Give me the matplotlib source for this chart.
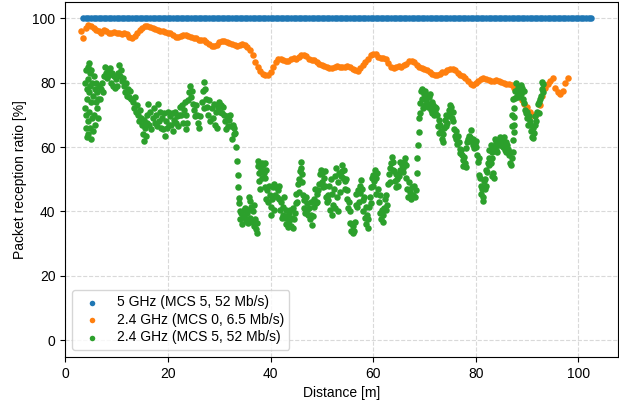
import matplotlib
matplotlib.use('Agg')
import matplotlib.pyplot as plt

# distance samples [m] used by the 5 GHz and 2.4 GHz MCS 0 runs
dist_m = [
    3.0, 3.5, 4.0, 4.5, 5.0, 5.5, 6.0, 6.5, 7.0, 7.5,
    8.0, 8.5, 9.0, 9.5, 10.0, 10.5, 11.0, 11.5, 12.0, 12.5,
    13.0, 13.5, 14.0, 14.5, 15.0, 15.5, 16.0, 16.5, 17.0, 17.5,
    18.0, 18.5, 19.0, 19.5, 20.0, 20.5, 21.0, 21.5, 22.0, 22.5,
    23.0, 23.5, 24.0, 24.5, 25.0, 25.5, 26.0, 26.5, 27.0, 27.5,
    28.0, 28.5, 29.0, 29.5, 30.0, 30.5, 31.0, 31.5, 32.0, 32.5,
    33.0, 33.5, 34.0, 34.5, 35.0, 35.5, 36.0, 36.5, 37.0, 37.5,
    38.0, 38.5, 39.0, 39.5, 40.0, 40.5, 41.0, 41.5, 42.0, 42.5,
    43.0, 43.5, 44.0, 44.5, 45.0, 45.5, 46.0, 46.5, 47.0, 47.5,
    48.0, 48.5, 49.0, 49.5, 50.0, 50.5, 51.0, 51.5, 52.0, 52.5,
    53.0, 53.5, 54.0, 54.5, 55.0, 55.5, 56.0, 56.5, 57.0, 57.5,
    58.0, 58.5, 59.0, 59.5, 60.0, 60.5, 61.0, 61.5, 62.0, 62.5,
    63.0, 63.5, 64.0, 64.5, 65.0, 65.5, 66.0, 66.5, 67.0, 67.5,
    68.0, 68.5, 69.0, 69.5, 70.0, 70.5, 71.0, 71.5, 72.0, 72.5,
    73.0, 73.5, 74.0, 74.5, 75.0, 75.5, 76.0, 76.5, 77.0, 77.5,
    78.0, 78.5, 79.0, 79.5, 80.0, 80.5, 81.0, 81.5, 82.0, 82.5,
    83.0, 83.5, 84.0, 84.5, 85.0, 85.5, 86.0, 86.5, 87.0, 87.5,
    88.0, 88.5, 89.0, 89.5, 90.0, 90.5, 91.0, 91.5, 92.0, 92.5,
    93.0, 93.5, 94.0, 94.5, 95.0, 95.5, 96.0, 96.5, 97.0, 97.5,
    98.0, 98.5, 99.0, 99.5, 100.0, 100.5, 101.0, 101.5, 102.0, 102.5,
    103.0,
]

# 5 GHz, MCS 5: every packet received (3.5 m .. 102.5 m)
prr_5ghz = [100.0] * 199

# 2.4 GHz, MCS 0 (3.0 m .. 98.0 m, 0.5 m steps)
prr_24_mcs0 = [
    96, 94, 97, 98, 97.5, 97, 96.5, 96, 95.5, 96.5,
    96, 95.5, 95.5, 95.8, 95.5, 95.5, 95.2, 95.5, 95, 94.3,
    94, 94.5, 95.5, 96.5, 97, 97.5, 97.5, 97.3, 97, 96.8,
    96.3, 96, 96, 95.8, 95.5, 95.3, 94.8, 94.3, 94.2, 94.5,
    94.8, 94.8, 94.5, 94.3, 94, 93.8, 93.3, 93.2, 93.3, 92.5,
    92, 91.5, 91.3, 91.8, 92.5, 93, 93, 92.5, 92.3, 92,
    91.8, 91.5, 91.7, 92, 91.8, 91, 90.3, 88.5, 86.5, 85,
    83.5, 82.8, 82.5, 82.5, 83.3, 85, 86.3, 87.3, 87.4, 87,
    86.7, 86.8, 87.3, 87.6, 87.5, 88, 88.5, 88.6, 88.2, 87.4,
    87, 87, 86.3, 85.8, 85.4, 85.3, 84.8, 84.6, 84.6, 85,
    85.3, 85, 84.8, 85, 85.2, 85, 84.3, 83.8, 83.6, 84.5,
    85.5, 86.3, 87.5, 88.6, 89, 88.8, 88, 87.7, 87.8, 87.4,
    86, 85, 84.6, 85, 85.2, 85, 85.4, 85.8, 86.6, 86.8,
    86.5, 85.5, 85, 84.6, 84.2, 83.8, 83.4, 82.6, 82.3, 82.4,
    82.8, 83.2, 83.3, 83.8, 84.2, 84.3, 84, 83, 82.3, 82,
    81.5, 80.5, 79.7, 79.4, 79.8, 80.6, 81, 81.3, 81, 80.8,
    80.6, 80.5, 80.8, 80.4, 80.3, 79.8, 79.6, 79.5, 79.3, 78.5,
    77.5, 76, 74.5, 73.5, 72.5, 71, 70, 69.5, 70.5, 73,
    76, 78.5, 79.5, 80.5, 81.5, 78.5, 77, 76.5, 77.5, 80,
    81.5,
]

# 2.4 GHz, MCS 5: (distance [m], PRR [%]) samples
samples_24_mcs5 = [
    (3.8, 72), (3.9, 80), (4.0, 66), (4.05, 84), (4.1, 70), (4.2, 78), (4.25, 63), (4.3, 75),
    (4.35, 85), (4.4, 68), (4.45, 81), (4.5, 64), (4.55, 77), (4.6, 86), (4.7, 71), (4.75, 83),
    (4.8, 66), (4.9, 79), (5.0, 62.5), (5.05, 74), (5.1, 84), (5.2, 69), (5.3, 80), (5.35, 65),
    (5.4, 76), (5.5, 82), (5.6, 70), (5.7, 78), (5.8, 67), (5.9, 74), (6.0, 80), (6.1, 72),
    (6.2, 77), (6.3, 69), (6.4, 75),
    (6.5, 79), (6.7, 75), (6.9, 78), (7.1, 80), (7.3, 77),
    (7.5, 82), (7.7, 85), (7.9, 83), (8.1, 81.5), (8.3, 84), (8.5, 82.5), (8.7, 84.5),
    (8.9, 80), (9.1, 83), (9.3, 79), (9.5, 82), (9.7, 78.5), (9.9, 81), (10.1, 79), (10.3, 83),
    (10.5, 85.5), (10.7, 82), (10.9, 84), (11.1, 80.5), (11.3, 81.5),
    (11.5, 79), (11.7, 77), (11.9, 80), (12.1, 76), (12.3, 78), (12.5, 75.5), (12.7, 77.5), (12.9, 75),
    (13.1, 74), (13.3, 72), (13.5, 75.5), (13.7, 71), (13.9, 73),
    (14.1, 70), (14.3, 68), (14.5, 71.5), (14.7, 69),
    (14.9, 67), (15.1, 64), (15.25, 68.5), (15.4, 62), (15.55, 66), (15.7, 63.5), (15.85, 67.5),
    (16.0, 70), (16.2, 73.5), (16.4, 67), (16.6, 71), (16.8, 65.5), (17.0, 69), (17.2, 72), (17.4, 67.5),
    (17.6, 70), (17.8, 66.5), (18.0, 73.5), (18.2, 68), (18.4, 71), (18.6, 66),
    (18.8, 69), (19.0, 65.5), (19.2, 70.5), (19.4, 63.3), (19.6, 68), (19.8, 66), (20.0, 71), (20.2, 67),
    (20.4, 69.5), (20.6, 67), (20.8, 70.5), (21.0, 65), (21.2, 68.5), (21.4, 71), (21.6, 67.5),
    (21.8, 69.5), (22.0, 66.5), (22.2, 70),
    (22.4, 72.5), (22.6, 70), (22.8, 73), (23.0, 67.5), (23.2, 71.5),
    (23.35, 74), (23.5, 65.5), (23.6, 70), (23.75, 67.5),
    (23.95, 74.5), (24.1, 77), (24.3, 79), (24.5, 75.5), (24.7, 77.5), (24.9, 73.5),
    (25.1, 71.5), (25.3, 69.5), (25.5, 73), (25.7, 70),
    (25.9, 67.5), (26.1, 66), (26.3, 69.5),
    (26.6, 74), (26.8, 77.5), (27.0, 72), (27.1, 80.3), (27.3, 78), (27.5, 75), (27.7, 72.5),
    (27.9, 70), (28.1, 74.5), (28.3, 68), (28.5, 72), (28.7, 69),
    (28.9, 73.5), (29.1, 67), (29.3, 71), (29.5, 66), (29.7, 72.5),
    (29.9, 74), (30.1, 71), (30.3, 73), (30.5, 70.5), (30.7, 72.5), (30.9, 70),
    (31.1, 68), (31.3, 65.5), (31.5, 69.5), (31.7, 66.5), (31.9, 68.5),
    (32.1, 70), (32.3, 66.5), (32.5, 62.5), (32.6, 67), (32.8, 64), (32.95, 66),
    (33.0, 64.5), (33.2, 60), (33.4, 55.7), (33.6, 51.3), (33.7, 47.7), (33.8, 44.2), (33.9, 42.5),
    (34.0, 40), (34.15, 37.5), (34.3, 39.5), (34.45, 36), (34.6, 38.5), (34.8, 40.5),
    (34.95, 38), (35.1, 41), (35.25, 37), (35.4, 39.5), (35.55, 36.5), (35.7, 40.5), (35.85, 44.5),
    (35.95, 43.3), (36.1, 38), (36.25, 41.5), (36.4, 36.8),
    (36.55, 40), (36.7, 35.5), (36.85, 42), (37.0, 37.5), (37.15, 34.5), (37.3, 33.2), (37.45, 36.5),
    (37.55, 55.7), (37.65, 54), (37.75, 52), (37.85, 49.5), (37.95, 47), (38.1, 53), (38.25, 55), (38.4, 50.5),
    (38.55, 54.5), (38.7, 52), (38.85, 55), (39.0, 50.5), (39.2, 53),
    (38.9, 47.5), (39.1, 44), (39.3, 46.5), (39.5, 43), (39.7, 48),
    (39.85, 45), (40.0, 41.5), (40.15, 39), (40.3, 44), (40.45, 47.5), (40.6, 40.5),
    (40.75, 48.5), (40.9, 45), (41.05, 47.5), (41.2, 44.5), (41.4, 46.5), (41.6, 48),
    (41.75, 44), (41.9, 40.5), (42.05, 43), (42.2, 38), (42.35, 41.5), (42.5, 39), (42.65, 44.5), (42.8, 37.8),
    (42.95, 40.5), (43.1, 36), (43.25, 38.5), (43.4, 35), (43.55, 39.5),
    (43.7, 37), (43.85, 40.5), (44.0, 35.5), (44.15, 38), (44.3, 41), (44.45, 34.7), (44.6, 37.5), (44.75, 39.5),
    (44.9, 42.5), (45.05, 45.5), (45.2, 43), (45.35, 48.5), (45.5, 46),
    (45.6, 50), (45.75, 52.5), (45.9, 55.4), (46.0, 53.5), (46.1, 49), (46.2, 51.5),
    (46.3, 45), (46.45, 41), (46.6, 43.5), (46.75, 39.5), (46.9, 44.5), (47.05, 40.5), (47.2, 42.5), (47.35, 39),
    (47.5, 41), (47.65, 37.5), (47.8, 43), (47.95, 39), (48.1, 35.7), (48.25, 38.5), (48.4, 41.5),
    (48.55, 44), (48.7, 47), (48.85, 42.5), (49.0, 45.5), (49.15, 43), (49.3, 46.5),
    (49.5, 48.5), (49.65, 51.5), (49.8, 53), (49.95, 49), (50.1, 52), (50.25, 47.5), (50.4, 50.5),
    (50.55, 48), (50.7, 52.5),
    (50.85, 44.5), (51.0, 43), (51.15, 45), (51.3, 43.5),
    (51.45, 48), (51.6, 40.5), (51.75, 50), (51.9, 39), (52.05, 45.5), (52.2, 42), (52.35, 47),
    (52.5, 51), (52.65, 41), (52.8, 53.4), (52.95, 44.5), (53.1, 49), (53.25, 40), (53.4, 52), (53.55, 46),
    (53.7, 51), (53.85, 54.4), (54.0, 52.5), (54.15, 50.3), (54.3, 53),
    (54.45, 49.5), (54.6, 47), (54.75, 50), (54.9, 46.6),
    (55.0, 44), (55.15, 41), (55.3, 43), (55.45, 40),
    (55.55, 36.5), (55.7, 34), (55.85, 36), (56.0, 33.2), (56.15, 35.5), (56.3, 34), (56.45, 36.8),
    (56.6, 42), (56.75, 45.5), (56.9, 41.5), (57.05, 46.5), (57.2, 43),
    (57.35, 48), (57.5, 45.6), (57.65, 49.7), (57.8, 47),
    (57.95, 43.5), (58.1, 40), (58.25, 44.5), (58.4, 38), (58.55, 41.5),
    (58.7, 36), (58.85, 39), (59.0, 34.7), (59.1, 37.5),
    (59.2, 41.5), (59.35, 44.5), (59.5, 42.5),
    (59.6, 47.5), (59.75, 50.5), (59.9, 48), (60.05, 51.3),
    (60.2, 49.5), (60.35, 53), (60.5, 50.5), (60.65, 45.5), (60.8, 52), (60.95, 47),
    (61.1, 43), (61.25, 39.5), (61.4, 45),
    (61.55, 37.5), (61.7, 40.5), (61.85, 36.8), (62.0, 39), (62.15, 41),
    (62.3, 44), (62.45, 40.5), (62.6, 45), (62.75, 42),
    (62.9, 48.5), (63.05, 51.5), (63.2, 49), (63.35, 53.4),
    (63.5, 55), (63.65, 57), (63.8, 53), (63.95, 55.5), (64.1, 52.5),
    (64.25, 49.5), (64.4, 51.5), (64.55, 47.5), (64.7, 50), (64.85, 48), (65.0, 51),
    (65.15, 53), (65.3, 55.4), (65.45, 52.5), (65.6, 54.5), (65.75, 53.5), (65.9, 52.3),
    (66.05, 55.5), (66.2, 56.5), (66.35, 54.5),
    (66.5, 50.5), (66.65, 47), (66.8, 44.5), (66.95, 49), (67.1, 46),
    (67.3, 44), (67.5, 47.5), (67.7, 45), (67.9, 48), (68.1, 44.5), (68.3, 46.5),
    (68.55, 52), (68.65, 56.5), (68.75, 60.5), (68.85, 64.8), (68.95, 69), (69.05, 70.5), (69.15, 73.6),
    (69.3, 77.5), (69.45, 75), (69.6, 78), (69.75, 72),
    (69.9, 76.5), (70.05, 73), (70.2, 77.5), (70.35, 74.5), (70.5, 76), (70.65, 72.5), (70.8, 75.5),
    (70.95, 73.5), (71.1, 76.5),
    (71.25, 71.5), (71.4, 74), (71.55, 70.5), (71.7, 73), (71.85, 70), (72.0, 72.5),
    (72.15, 71), (72.3, 72), (72.45, 70),
    (72.6, 66.5), (72.75, 68.5), (72.9, 64.5), (73.05, 67), (73.2, 65),
    (73.4, 62.5), (73.55, 61.6), (73.7, 64),
    (73.85, 66), (74.0, 68.5), (74.15, 66.5), (74.3, 70), (74.45, 67.5), (74.6, 69.5),
    (74.75, 71.5), (74.9, 73), (75.05, 70.5), (75.2, 72.5), (75.35, 69), (75.5, 71), (75.65, 68),
    (75.8, 65.5), (75.95, 63.5), (76.1, 65),
    (76.25, 62.5), (76.4, 61), (76.55, 63.5), (76.7, 61.5),
    (76.85, 59.5), (77.0, 58), (77.15, 59), (77.3, 57.5),
    (77.45, 56), (77.6, 54), (77.75, 57), (77.9, 55), (78.05, 53.9),
    (78.2, 59.6), (78.35, 61.5),
    (78.5, 62.5), (78.65, 63.5), (78.8, 61.8), (78.95, 63), (79.1, 65.3), (79.25, 62),
    (79.4, 60.5), (79.55, 62.5), (79.7, 59.6), (79.85, 61), (80.0, 60), (80.15, 62),
    (80.3, 57.5), (80.45, 55.5), (80.6, 56.5),
    (80.7, 51.3), (80.85, 50.3),
    (81.0, 48), (81.1, 45.5), (81.2, 47), (81.35, 43.3), (81.5, 44.5),
    (81.6, 49.5), (81.75, 47), (81.9, 50), (82.05, 48),
    (82.1, 53), (82.25, 52.3),
    (82.35, 55), (82.5, 56.5), (82.65, 54.5), (82.8, 56), (82.95, 55), (83.1, 56.5),
    (83.2, 51), (83.35, 52), (83.5, 50.5),
    (82.6, 59), (82.9, 60.5), (83.25, 58.5),
    (83.6, 60), (83.75, 62.5), (83.9, 59), (84.05, 61.5), (84.2, 58.5), (84.35, 62), (84.5, 60.5), (84.65, 61),
    (84.8, 63), (84.95, 60.5), (85.1, 62.5), (85.25, 60), (85.4, 61.5), (85.55, 63),
    (85.7, 59), (85.85, 61.5), (86.0, 58.5), (86.15, 60.5), (86.3, 59.5),
    (86.45, 57.5), (86.6, 55), (86.75, 58.5), (86.9, 54.4), (87.05, 56.5), (87.1, 66.5), (87.15, 70), (87.2, 75),
    (87.3, 58.5), (87.35, 62.2), (87.4, 64.8), (87.45, 66.8), (87.5, 69.4), (87.55, 72), (87.6, 75.1),
    (87.7, 77.5), (87.85, 79.8), (88.0, 76), (88.15, 78.5), (88.3, 75.5), (88.45, 79), (88.6, 77),
    (88.75, 79.3), (88.9, 76.5), (89.05, 78.5), (89.2, 75), (89.35, 77.5), (89.5, 73.6),
    (89.65, 71.5), (89.8, 70.5), (89.95, 71),
    (90.05, 69), (90.2, 67), (90.35, 69.5), (90.5, 66.8), (90.65, 68),
    (90.8, 65), (90.95, 63), (91.1, 66), (91.25, 62.7), (91.4, 64.5),
    (91.5, 67), (91.65, 69.5), (91.8, 68),
    (91.95, 71), (92.1, 73.5), (92.25, 70.5), (92.4, 74),
    (92.55, 75), (92.7, 76),
    (92.85, 78), (92.95, 80.3), (93.05, 77), (93.15, 79.5),
]

labels = ['5 GHz (MCS 5, 52 Mb/s)', '2.4 GHz (MCS 0, 6.5 Mb/s)', '2.4 GHz (MCS 5, 52 Mb/s)']
colors = ['#1f77b4', '#ff7f0e', '#2ca02c']

plt.rcParams['font.family'] = ['Liberation Sans', 'DejaVu Sans']
plt.rcParams['font.size'] = 10

fig, ax = plt.subplots(figsize=(6.19, 4.0), dpi=100)
fig.subplots_adjust(left=0.1055, right=0.9989, bottom=0.108, top=0.996)

ax.scatter(dist_m[1:1 + len(prr_5ghz)], prr_5ghz, s=22, color=colors[0], linewidths=0, label=labels[0])
ax.scatter(dist_m[:len(prr_24_mcs0)], prr_24_mcs0, s=22, color=colors[1], linewidths=0, label=labels[1])
d5, p5 = zip(*samples_24_mcs5)
ax.scatter(d5, p5, s=22, color=colors[2], linewidths=0, label=labels[2])

ax.set_xlim(0, 107.8)
ax.set_ylim(-5.2, 105.2)
ax.set_xticks([0, 20, 40, 60, 80, 100])
ax.set_yticks([0, 20, 40, 60, 80, 100])
ax.grid(True, linestyle='--', color='#d9d9d9', linewidth=0.8)
ax.set_axisbelow(True)
ax.set_xlabel('Distance [m]')
ax.set_ylabel('Packet reception ratio [%]')

ax.legend(loc='lower left', labelspacing=0.25, edgecolor='#cccccc', markerscale=0.85)

fig.savefig('out.png', dpi=100)
